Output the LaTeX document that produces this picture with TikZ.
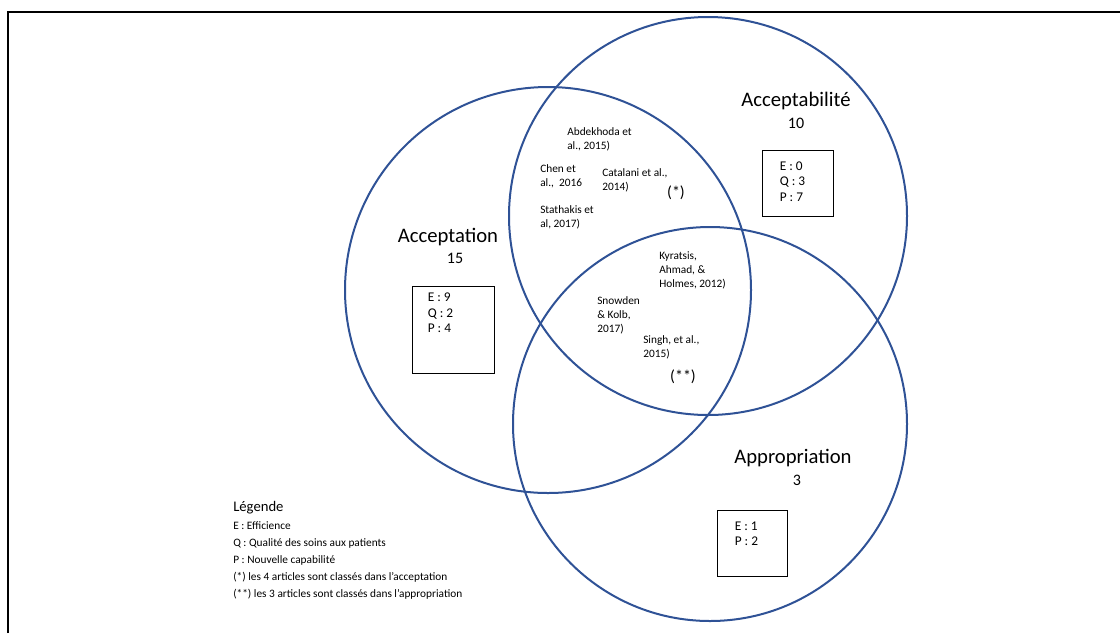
\documentclass[tikz,border=0pt]{standalone}
\usepackage{fontspec}
\setmainfont{Carlito}
\usetikzlibrary{positioning}
\definecolor{ringblue}{RGB}{47,82,150}
\tikzset{
  ring/.style={circle, draw=ringblue, line width=1.5pt, inner sep=0pt},
  circtitle/.style={font=\fontsize{15.5}{17}\selectfont, inner sep=0pt},
  circcount/.style={font=\fontsize{12}{14}\selectfont, inner sep=0pt},
  scorebox/.style={draw, line width=0.75pt, inner sep=0pt},
  scoretext/.style={font=\fontsize{10}{11.6}\selectfont, align=left, inner sep=0pt},
  cite/.style={font=\fontsize{8.5}{10.5}\selectfont, align=left, anchor=north west, inner sep=0pt},
  star/.style={font=\fontsize{12}{14}\selectfont, inner sep=0pt},
  legendtitle/.style={font=\fontsize{11}{13}\selectfont, anchor=west, inner sep=0pt},
  legendbody/.style={font=\fontsize{8.5}{12.75}\selectfont, align=left, anchor=north west, inner sep=0pt},
  frame/.style={line width=1.6pt},
  framethin/.style={line width=0.8pt}
}
\begin{document}
\begin{tikzpicture}[x=0.75pt, y=-0.75pt]
  \useasboundingbox (0,0) rectangle (1120,633);
  \coordinate (fbl) at (8,633);
  \coordinate (ftl) at (8,12);
  \coordinate (fa) at (228,12);
  \coordinate (fb) at (910,12);
  \coordinate (ftr) at (1120,12);
  \draw[frame] (fbl) -- (ftl) -- (fa);
  \draw[framethin] (fa) -- (fb);
  \draw[frame] (fb) -- (ftr);

  \node[ring, minimum size=406*0.75pt] (acceptation) at (548,290) {};
  \node[ring, minimum size=398*0.75pt] (acceptabilite) at (708,216) {};
  \node[ring, minimum size=394*0.75pt] (appropriation) at (710,424) {};

  \node[circtitle] (t1) at (448,237) {Acceptation};
  \node[circcount] (n1) at (455,258) {15};
  \node[circtitle] (t2) at (796,101) {Acceptabilité};
  \node[circcount] (n2) at (796,123) {10};
  \node[circtitle] (t3) at (793,458) {Appropriation};
  \node[circcount] (n3) at (797,480) {3};

  \node[scorebox, minimum width=82*0.75pt, minimum height=87*0.75pt] (box1) at (453,329.5) {};
  \node[scoretext, below right=5.5pt and 12pt of box1.north west] (s1) {E : 9\\Q : 2\\P : 4};
  \node[scorebox, minimum width=71*0.75pt, minimum height=66*0.75pt] (box2) at (797.5,183) {};
  \node[scoretext, below right=9pt and 13.5pt of box2.north west] (s2) {E : 0\\Q : 3\\P : 7};
  \node[scorebox, minimum width=70*0.75pt, minimum height=66*0.75pt] (box3) at (752,543) {};
  \node[scoretext, below right=9pt and 13.5pt of box3.north west] (s3) {E : 1\\P : 2};

  \node[cite] (c1) at (567,127) {Abdekhoda et\\al., 2015)};
  \node[cite] (c2) at (540,164) {Chen et\\al.,~~2016};
  \node[cite] (c3) at (602,168) {Catalani et al.,\\2014)};
  \node[cite] (c4) at (540,205) {Stathakis et\\al, 2017)};
  \node[star] (st1) at (676,193) {(*)};
  \node[cite] (c5) at (659,251) {Kyratsis,\\Ahmad, \&\\Holmes, 2012)};
  \node[cite] (c6) at (597,296) {Snowden\\\& Kolb,\\2017)};
  \node[cite] (c7) at (643,335) {Singh, et al.,\\2015)};
  \node[star] (st2) at (683,377) {(**)};

  \node[legendtitle] (leg) at (233,508) {Légende};
  \node[legendbody] (legbody) at (233,521) {E : Efficience\\Q : Qualité des soins aux patients\\P : Nouvelle capabilité\\(*) les 4 articles sont classés dans l’acceptation\\(**) les 3 articles sont classés dans l’appropriation};
\end{tikzpicture}
\end{document}
